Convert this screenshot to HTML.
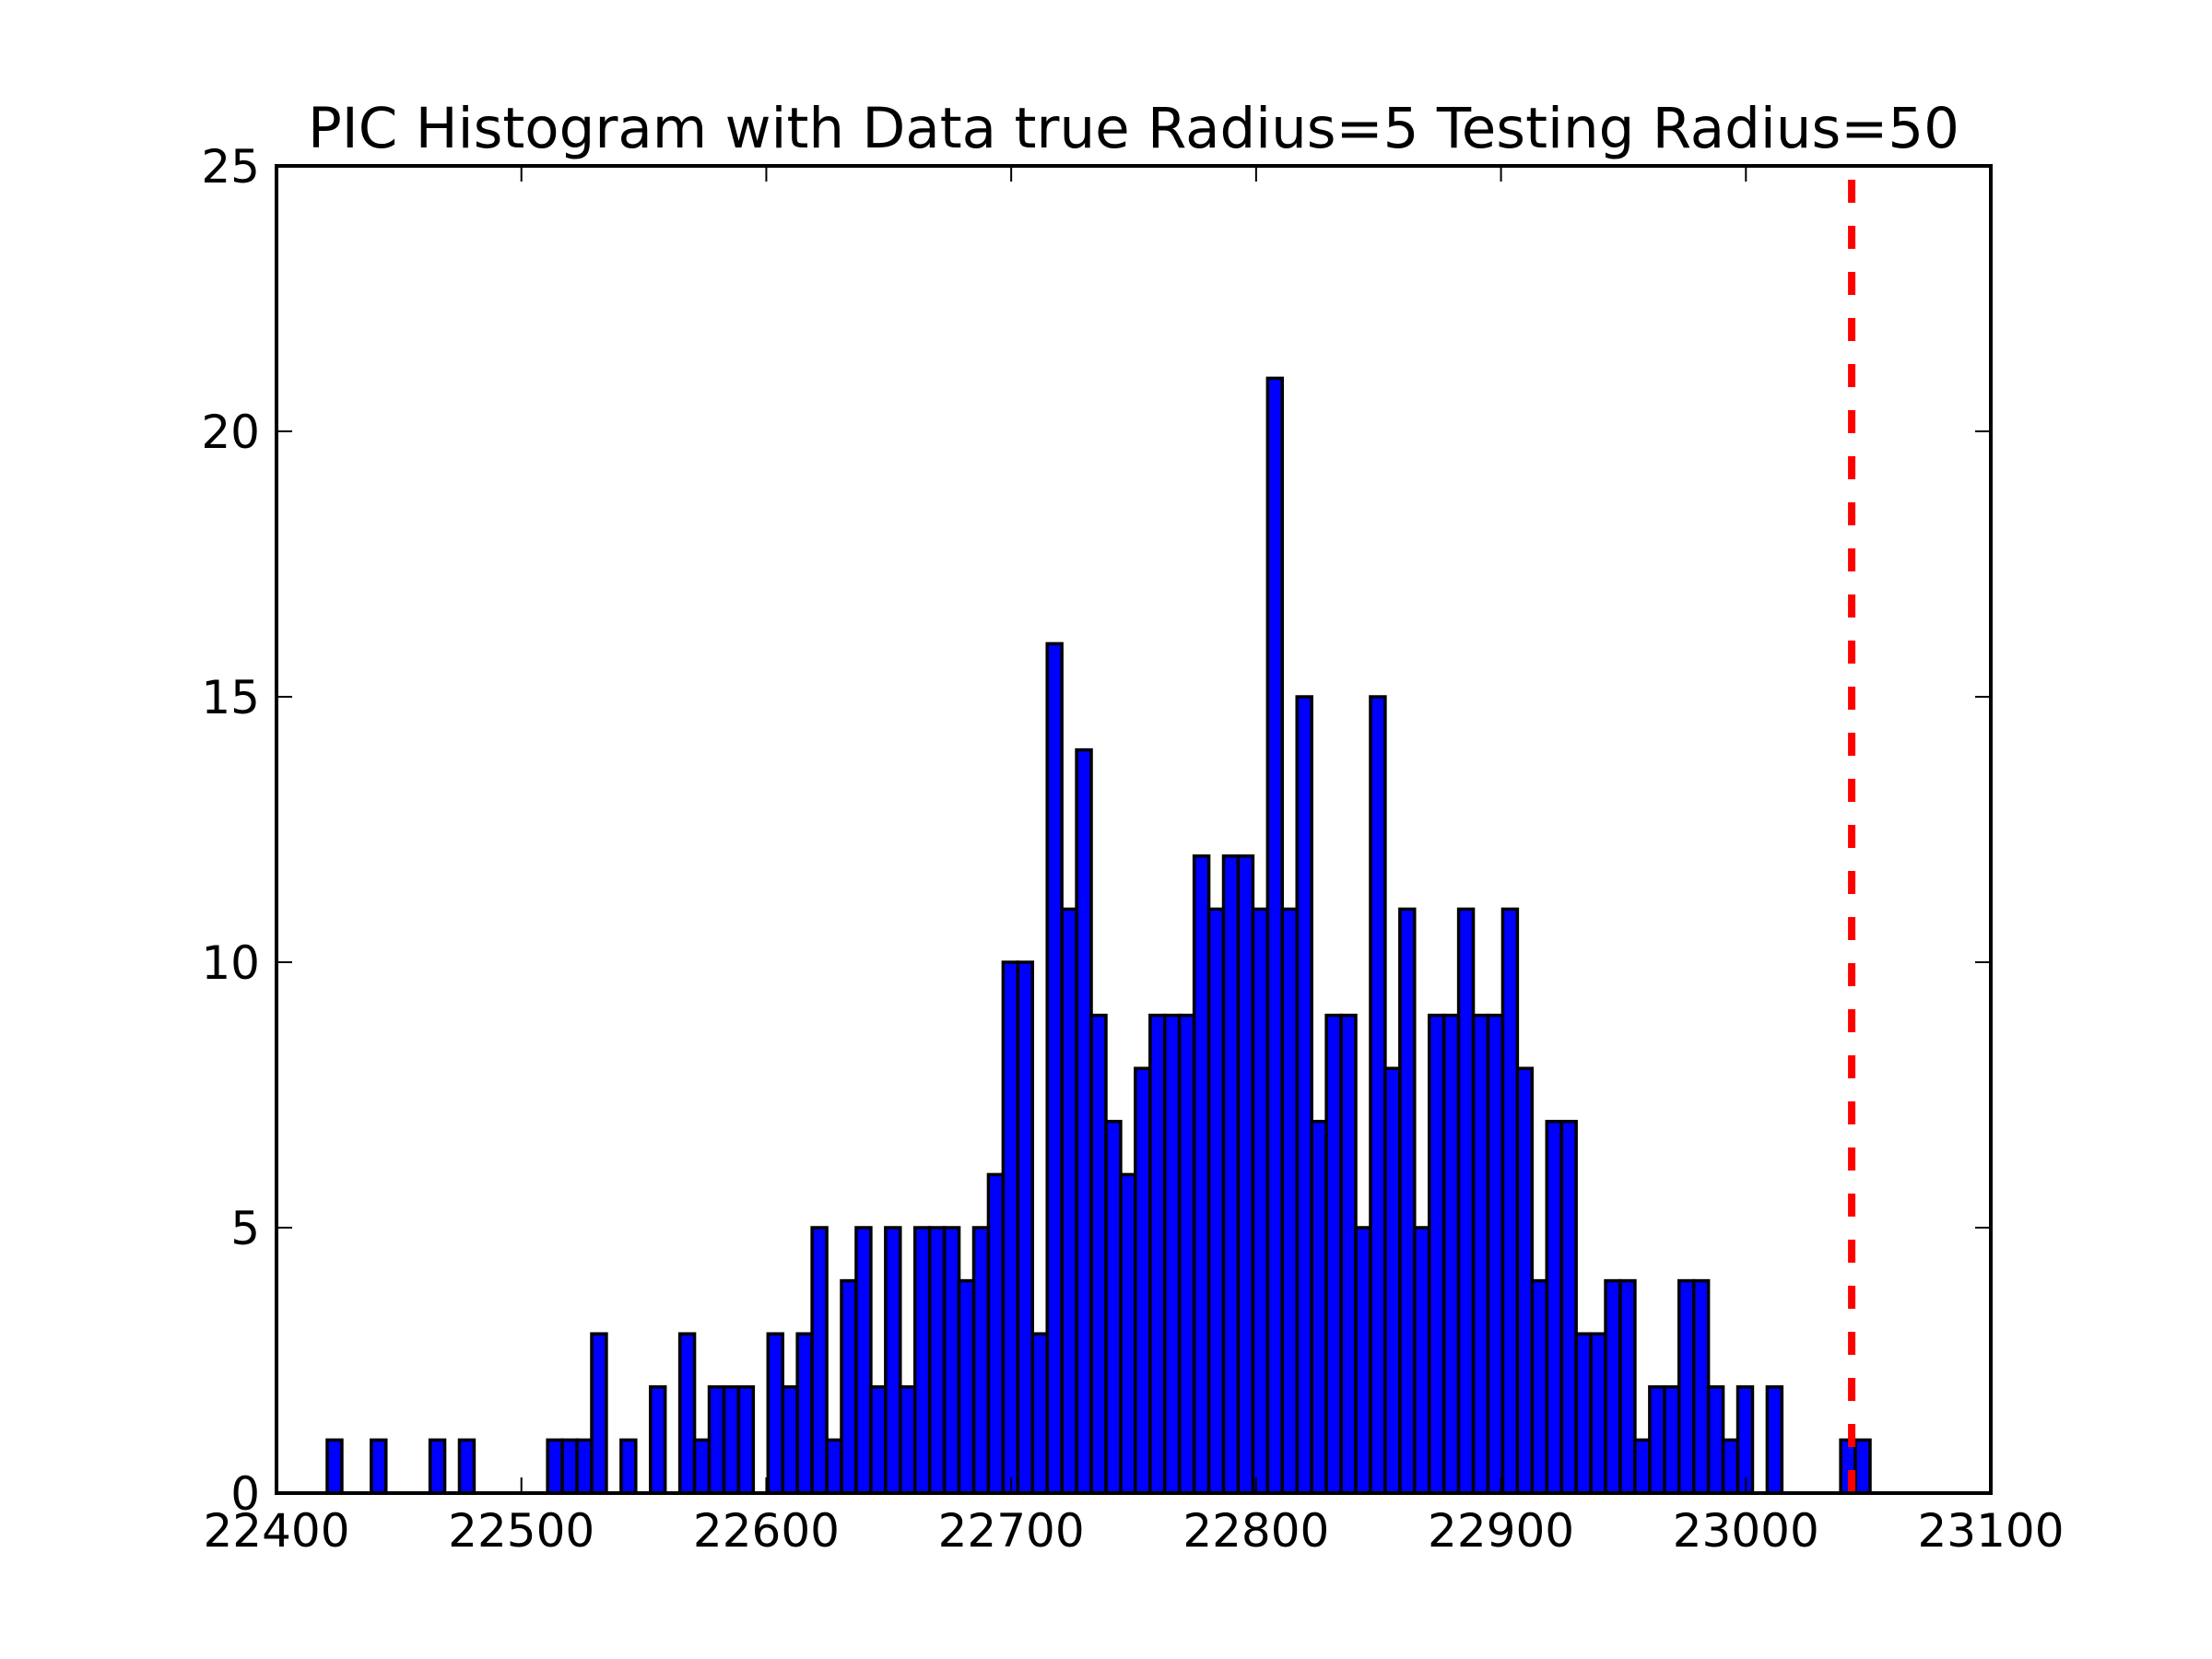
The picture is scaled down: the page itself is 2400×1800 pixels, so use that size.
<!DOCTYPE html>
<html><head><meta charset="utf-8"><style>
html,body{margin:0;padding:0;background:#fff;}
svg{display:block;font-family:"DejaVu Sans","Liberation Sans",sans-serif;}
</style></head><body>
<svg id="chart" width="2400" height="1800" viewBox="0 0 2400 1800" xmlns="http://www.w3.org/2000/svg">
<rect x="0" y="0" width="2400" height="1800" fill="#fff"/>
<text x="1230" y="160" font-size="61" text-anchor="middle" fill="#000">PIC Histogram with Data true Radius=5 Testing Radius=50</text>
<g id="bars"></g>
<g id="marker"></g>
<g id="axes"></g>
</svg>
<script>
const binStart = 22420.7;
const binWidth = 6.0;
const counts = [1,0,0,1,0,0,0,1,0,1,0,0,0,0,0,1,1,1,3,0,1,0,2,0,3,1,2,2,2,0,
3,2,3,5,1,4,5,2,5,2,5,5,5,4,5,6,10,10,3,16,11,14,9,7,6,8,9,9,9,12,
11,12,12,11,21,11,15,7,9,9,5,15,8,11,5,9,9,11,9,9,11,8,4,7,7,3,3,4,4,1,
2,2,4,4,2,1,2,0,2,0,0,0,0,1,1];
const xTicks = [22400,22500,22600,22700,22800,22900,23000,23100];
const yTicks = [0,5,10,15,20,25];
const testValue = 23043.2;

const L=300,R=2160,T=180,B=1620;
const xMin=22400,xMax=23100,yMin=0,yMax=25;
const NS="http://www.w3.org/2000/svg";
function xs(v){return L+(v-xMin)/(xMax-xMin)*(R-L);}
function ys(v){return B-(v-yMin)/(yMax-yMin)*(B-T);}
function mk(tag,attrs,parent){const e=document.createElementNS(NS,tag);for(const k in attrs)e.setAttribute(k,attrs[k]);parent.appendChild(e);return e;}

const bars=document.getElementById('bars');
counts.forEach((c,i)=>{
  const x0=xs(binStart+i*binWidth), x1=xs(binStart+(i+1)*binWidth);
  const r=mk('rect',{x:x0,y:ys(c),width:x1-x0,height:ys(0)-ys(c),fill:'#0000ff',stroke:'#000','stroke-width':3.5},bars);
  
  
});

const marker=document.getElementById('marker');
const ml=mk('line',{x1:xs(testValue),x2:xs(testValue),y1:B,y2:T,stroke:'#ff0000','stroke-width':8,'stroke-dasharray':'25,25'},marker);



const axes=document.getElementById('axes');
const frame=mk('rect',{x:L,y:T,width:R-L,height:B-T,fill:'none',stroke:'#000','stroke-width':4},axes);


xTicks.forEach(v=>{
  const x=xs(v);
  mk('line',{x1:x,x2:x,y1:B,y2:B-17,stroke:'#000','stroke-width':2},axes);
  mk('line',{x1:x,x2:x,y1:T,y2:T+17,stroke:'#000','stroke-width':2},axes);
  const t=mk('text',{x:x,y:1678,'font-size':50,'text-anchor':'middle',fill:'#000'},axes);
  t.textContent=v;
  
  
});
yTicks.forEach(v=>{
  const y=ys(v);
  mk('line',{x1:L,x2:L+17,y1:y,y2:y,stroke:'#000','stroke-width':2},axes);
  mk('line',{x1:R,x2:R-17,y1:y,y2:y,stroke:'#000','stroke-width':2},axes);
  const t=mk('text',{x:282,y:y+18,'font-size':50,'text-anchor':'end',fill:'#000'},axes);
  t.textContent=v;
  
  
});
</script>
</body></html>
